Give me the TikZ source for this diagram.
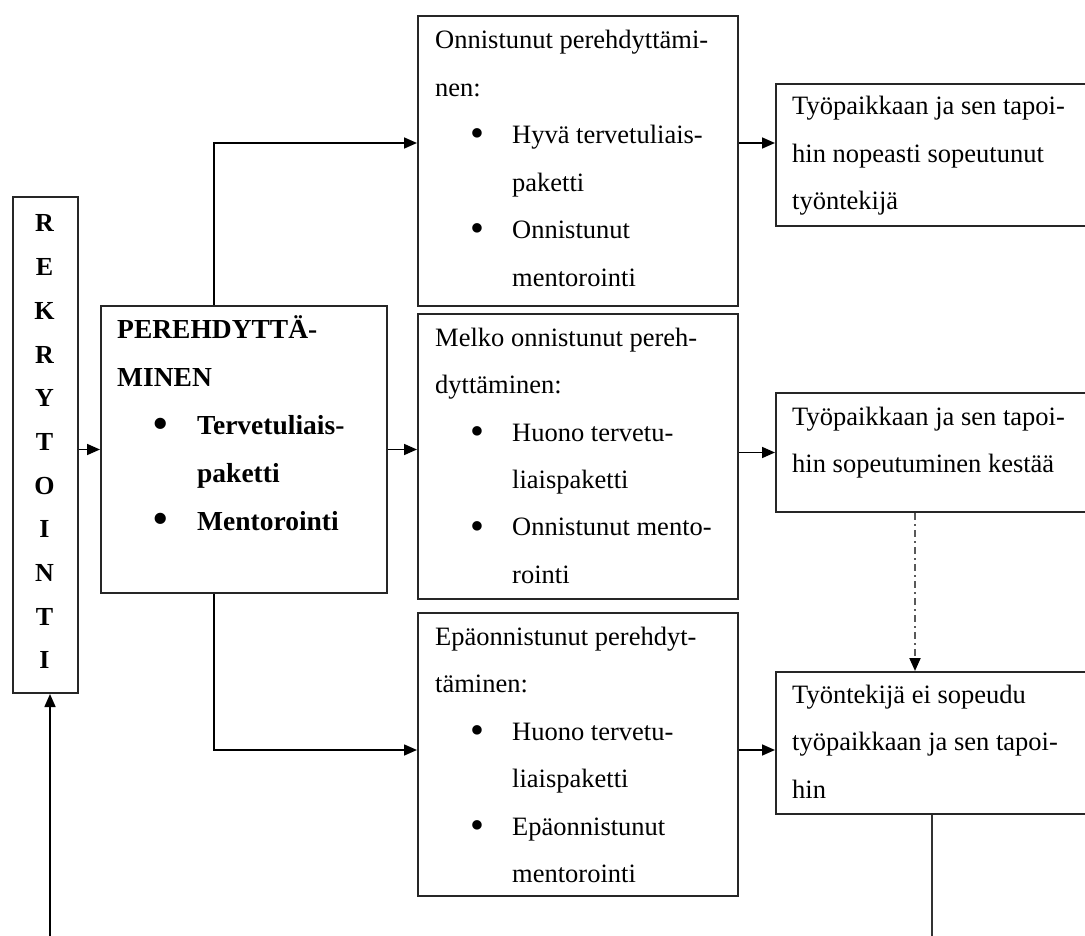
\documentclass[tikz,border=0pt]{standalone}
\usepackage{fontspec}
\setmainfont{Liberation Serif}
\usetikzlibrary{arrows.meta}
% enlarged bullet placed at a given offset, taking no width
\newcommand\blt[1]{\makebox[0pt][l]{\hspace*{#1}\raisebox{-3pt}{\scalebox{1.5}{\textbullet}}}}

\begin{document}
\begin{tikzpicture}[x=1pt,y=-1pt,
  box/.style={draw=black!85, line width=2pt, inner sep=0pt, anchor=north west},
  txt/.style={anchor=base west, inner sep=0pt, font=\fontsize{26.5}{47.5}\selectfont},
  conn/.style={line width=1.6pt, draw=black, -{Triangle[length=13pt,width=11pt]}},
  plain/.style={line width=1.6pt, draw=black!80},
  dashdot/.style={line width=2pt, draw=black!65, dash pattern=on 7pt off 4pt on 2pt off 4pt,
    -{Triangle[length=13pt,width=11pt,color=black]}},
]
\useasboundingbox (0,0) rectangle (1085,936);

% frames
\node[box, minimum width=65pt,  minimum height=496pt] (rek) at (12,196) {};
\node[box, minimum width=286pt, minimum height=287pt] (per) at (100,305) {};
\node[box, minimum width=320pt, minimum height=290pt] (b1)  at (417,15)  {};
\node[box, minimum width=320pt, minimum height=285pt] (b2)  at (417,313) {};
\node[box, minimum width=320pt, minimum height=283pt] (b3)  at (417,612) {};
\node[box, minimum width=330pt, minimum height=142pt] (r1)  at (775,83)  {};
\node[box, minimum width=330pt, minimum height=119pt] (r2)  at (775,392) {};
\node[box, minimum width=330pt, minimum height=142pt] (r3)  at (775,671) {};

% texts
\node[txt, anchor=base, font=\bfseries\fontsize{26}{43.7}\selectfont] (rektxt) at (44.5,232)
  {\parbox[t]{40pt}{\centering R\\E\\K\\R\\Y\\T\\O\\I\\N\\T\\I}};

\node[txt, font=\bfseries\fontsize{27.5}{48}\selectfont] (pertxt) at (117,338)
  {\parbox[t]{260pt}{\raggedright
  PEREHDYTTÄ-\\
  MINEN\\
  \blt{36pt}\hspace*{80pt}Tervetuliais-\\
  \hspace*{80pt}paketti\\
  \blt{36pt}\hspace*{80pt}Mentorointi}};

\node[txt] (b1txt) at (435,49) {\parbox[t]{320pt}{\raggedright
  Onnistunut perehdyttämi-\\
  nen:\\
  \blt{35pt}\hspace*{77pt}Hyvä tervetuliais-\\
  \hspace*{77pt}paketti\\
  \blt{35pt}\hspace*{77pt}Onnistunut\\
  \hspace*{77pt}mentorointi}};

\node[txt] (b2txt) at (435,346) {\parbox[t]{320pt}{\raggedright
  Melko onnistunut pereh-\\
  dyttäminen:\\
  \blt{35pt}\hspace*{77pt}Huono tervetu-\\
  \hspace*{77pt}liaispaketti\\
  \blt{35pt}\hspace*{77pt}Onnistunut mento-\\
  \hspace*{77pt}rointi}};

\node[txt] (b3txt) at (435,645) {\parbox[t]{320pt}{\raggedright
  Epäonnistunut perehdyt-\\
  täminen:\\
  \blt{35pt}\hspace*{77pt}Huono tervetu-\\
  \hspace*{77pt}liaispaketti\\
  \blt{35pt}\hspace*{77pt}Epäonnistunut\\
  \hspace*{77pt}mentorointi}};

\node[txt] (r1txt) at (792,115) {\parbox[t]{320pt}{\raggedright
  Työpaikkaan ja sen tapoi-\\
  hin nopeasti sopeutunut\\
  työntekijä}};

\node[txt] (r2txt) at (792,425) {\parbox[t]{320pt}{\raggedright
  Työpaikkaan ja sen tapoi-\\
  hin sopeutuminen kestää}};

\node[txt] (r3txt) at (792,703) {\parbox[t]{320pt}{\raggedright
  Työntekijä ei sopeudu\\
  työpaikkaan ja sen tapoi-\\
  hin}};

% routing points
\coordinate (ju) at (214,143);   % upper branch level
\coordinate (jd) at (214,750);   % lower branch level
\coordinate (jv) at (915,0);     % dash-dot drop
\coordinate (jr) at (932,0);     % return line
\coordinate (endr) at (932,945);
\coordinate (endl) at (50,945);

% connectors
\draw[conn] (rek.east |- per.west) -- (per.west);
\draw[conn] (per.north -| ju) |- (b1.west |- ju);
\draw[conn] (per.east) -- (per.east -| b2.west);
\draw[conn] (per.south -| jd) |- (b3.west |- jd);
\draw[conn] (b1.east |- ju) -- (r1.west |- ju);
\draw[conn] (b2.east |- r2.west) -- (r2.west);
\draw[conn] (b3.east |- jd) -- (r3.west |- jd);
\draw[dashdot] (r2.south -| jv) -- (r3.north -| jv);
\draw[plain] (r3.south -| jr) -- (endr);
\draw[conn] (endl) -- (endl |- rek.south);
\end{tikzpicture}
\end{document}
